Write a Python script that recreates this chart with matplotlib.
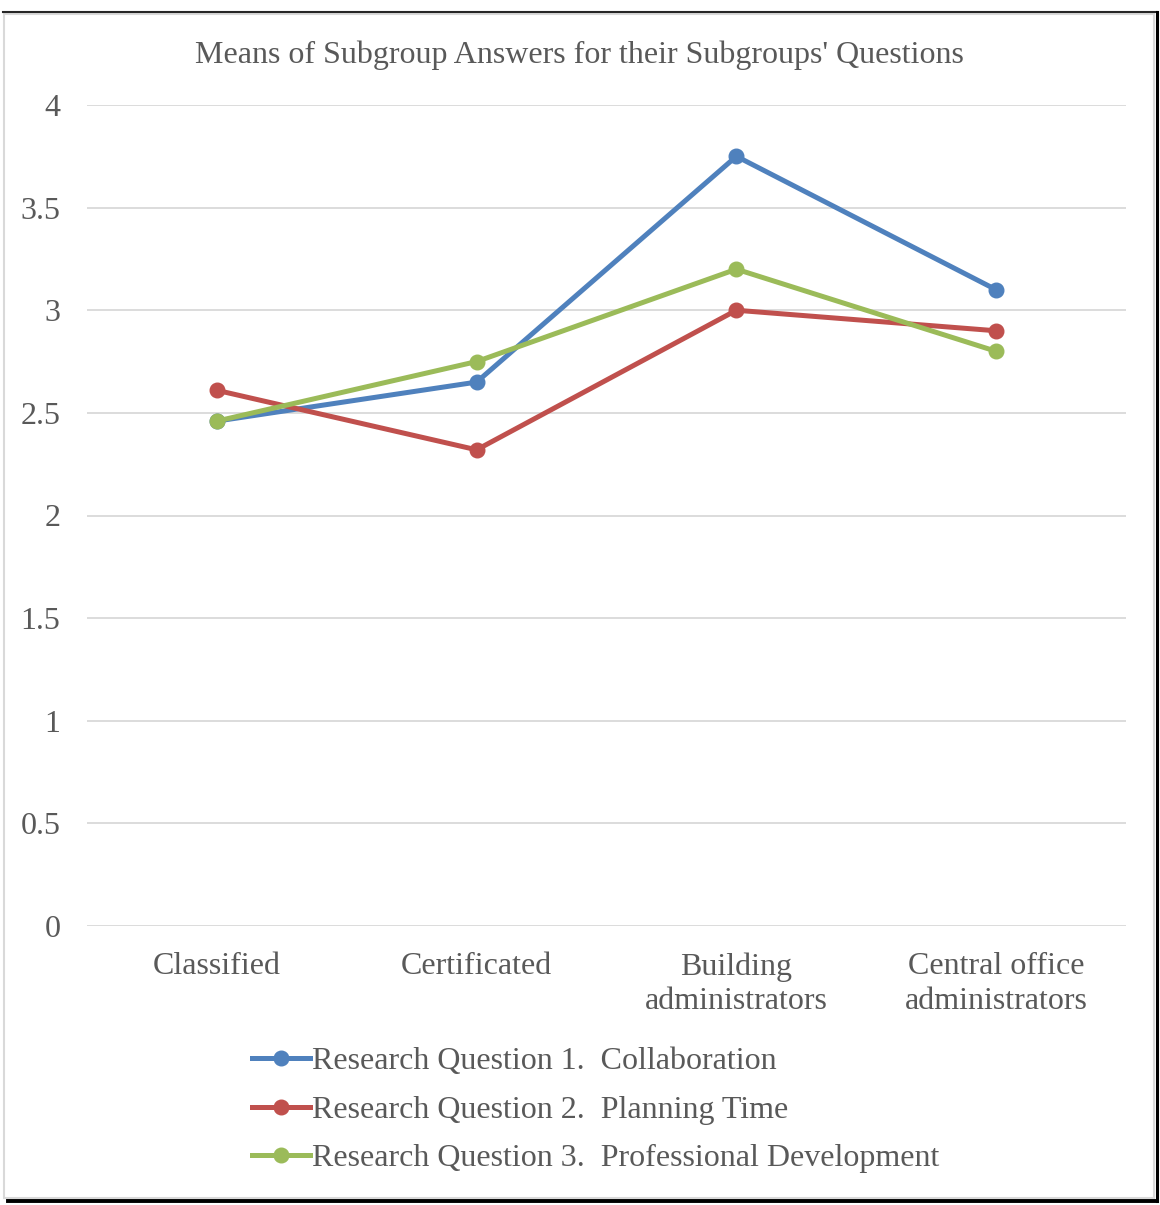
import matplotlib.pyplot as plt
from matplotlib.patches import Rectangle
from matplotlib.lines import Line2D

# subgroups on the x axis
categories = ["Classified", "Certificated", "Building\nadministrators", "Central office\nadministrators"]

# means
rq1 = [2.46, 2.65, 3.75, 3.10]
rq2 = [2.61, 2.32, 3.00, 2.90]
rq3 = [2.46, 2.75, 3.20, 2.80]

series_names = ["Research Question 1.  Collaboration",
                "Research Question 2.  Planning Time",
                "Research Question 3.  Professional Development"]
colors = ["#4F81BD", "#C0504D", "#9BBB59"]

yticks = [0, 0.5, 1, 1.5, 2, 2.5, 3, 3.5, 4]
ytick_labels = ["0", "0.5", "1", "1.5", "2", "2.5", "3", "3.5", "4"]

plt.rcParams['font.family'] = ['Liberation Serif', 'DejaVu Serif']
txt = "#595959"

W, H = 1160, 1205
fig = plt.figure(figsize=(W / 100, H / 100), dpi=100)

# chart frame: light grey box with a dark edge on top/right/bottom
fig.patches.append(Rectangle((4 / W, 1 - 1198 / H), 1150 / W, 1184 / H, transform=fig.transFigure,
                             fill=False, edgecolor="#D9D9D9", linewidth=1.5))
fig.add_artist(Line2D([3 / W, 1157 / W], [1 - 12 / H, 1 - 12 / H], transform=fig.transFigure, color="#262626", linewidth=1.5))
fig.add_artist(Line2D([1156.5 / W, 1156.5 / W], [1 - 12 / H, 1 - 1201 / H], transform=fig.transFigure, color="black", linewidth=2.2))
fig.add_artist(Line2D([8 / W, 1157 / W], [1 - 1201 / H, 1 - 1201 / H], transform=fig.transFigure, color="black", linewidth=2.8))

ax = fig.add_axes([87 / W, 1 - 926 / H, (1126 - 87) / W, (926 - 105) / H])

x = range(len(categories))
for vals, name, c in zip([rq1, rq2, rq3], series_names, colors):
    ax.plot(x, vals, color=c, linewidth=3.6, marker="o", markersize=10.5, label=name, solid_joinstyle="round")

ax.set_xlim(-0.5, 3.5)
ax.set_ylim(0, 4)
ax.set_yticks(yticks)
ax.set_yticklabels(ytick_labels)
ax.set_xticks(list(x))
ax.set_xticklabels(categories, linespacing=1.25)
ax.tick_params(axis="both", length=0, labelsize=23, colors=txt)
ax.tick_params(axis="y", pad=19)
ax.tick_params(axis="x", pad=19)
ax.grid(axis="y", color="#D9D9D9", linewidth=1.3)
ax.set_axisbelow(True)
for s in ax.spines.values():
    s.set_visible(False)

fig.text(579 / W, 1 - 55 / H, "Means of Subgroup Answers for their Subgroups' Questions",
         ha="center", va="center", fontsize=23, color=txt)

leg = fig.legend(loc="upper left", bbox_to_anchor=(252 / W, 1 - 1047 / H), frameon=False,
                 fontsize=23, labelcolor=txt, handlelength=1.8, handletextpad=0.08,
                 labelspacing=0.6, borderpad=0, borderaxespad=0)

fig.savefig("out.png", dpi=100, facecolor="white")
